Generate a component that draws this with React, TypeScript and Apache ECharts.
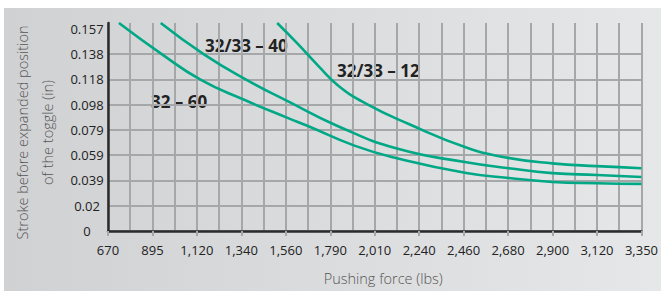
import React, { useEffect, useRef } from "react";
import * as echarts from "echarts";

const xTickLabels = ["670", "895", "1,120", "1,340", "1,560", "1,790", "2,010", "2,240", "2,460", "2,680", "2,900", "3,120", "3,350"];
const yTickLabels = ["0", "0.02", "0.039", "0.059", "0.079", "0.098", "0.118", "0.138", "0.157"];

// Pushing force (lbs) / stroke (in)
const force60 = [725, 938, 1137, 1351, 1575, 1674, 1908, 2122, 2470, 2684, 2902, 3126, 3350];
const stroke60 = [0.162, 0.138, 0.1177, 0.1024, 0.0879, 0.0818, 0.0665, 0.0566, 0.0451, 0.0413, 0.0382, 0.0372, 0.0367];

const force40 = [935, 1152, 1366, 1575, 1823, 2122, 2470, 2684, 2902, 3126, 3350];
const stroke40 = [0.162, 0.1376, 0.1177, 0.1009, 0.0818, 0.0642, 0.0535, 0.0489, 0.0451, 0.0436, 0.042];

const force12 = [1520, 1620, 1730, 1830, 1973, 2181, 2470, 2669, 2902, 3126, 3350];
const stroke12 = [0.162, 0.1463, 0.128, 0.1128, 0.0986, 0.0833, 0.065, 0.0573, 0.0527, 0.0505, 0.0489];

const seriesNames = ["32 – 60", "32/33 – 40", "32/33 – 12"];

const X_MIN = 670;
const X_MAX = 3350;
const X_INT = (X_MAX - X_MIN) / 12;
const Y_INT = 0.15748 / 8;
const Y_MAX = 0.162;

const GREEN = "#00a886";
const GRID = "#a6a7a9";
const NONE = "rgba(0,0,0,0)";
const FONT = '"Open Sans", "Noto Sans", sans-serif';

function pairs(xs: number[], ys: number[]) {
  return xs.map((x, i) => [x, ys[i]]);
}

export default function App() {
  const ref = useRef<HTMLDivElement>(null);
  useEffect(() => {
    if (!ref.current) return;
    const chart = echarts.init(ref.current, null, { renderer: "svg" });
    const lineSeries = (name: string, data: number[][]) => ({
      name,
      type: "line",
      data,
      smooth: 0.5,
      showSymbol: false,
      symbol: "none",
      clip: true,
      lineStyle: { color: GREEN, width: 2.6 },
      itemStyle: { color: GREEN },
    });
    const gridStyle = { color: GRID, width: 2, type: "solid", opacity: 1 };
    const labelStyle = { fontSize: 17, fontWeight: "bold", fontFamily: FONT, fill: "#222", verticalAlign: "middle" };
    chart.setOption({
      animation: false,
      backgroundColor: {
        type: "linear",
        x: 0,
        y: 0,
        x2: 1,
        y2: 0,
        colorStops: [
          { offset: 0, color: "#d0d1d3" },
          { offset: 1, color: "#e6e7e8" },
        ],
      },
      grid: { left: 108, right: 14, top: 23, bottom: 56 },
      xAxis: {
        type: "value",
        min: X_MIN,
        max: X_MAX,
        interval: X_INT,
        name: "Pushing force (lbs)",
        nameLocation: "middle",
        nameGap: 40,
        nameTextStyle: { fontSize: 14.5, color: "#555", fontFamily: FONT, fontWeight: 300, padding: [0, 0, 0, 17] },
        axisLine: { lineStyle: { color: "#2b2b2b", width: 2.5, opacity: 1 } },
        axisTick: { show: true, length: 5, lineStyle: { ...gridStyle } },
        axisLabel: {
          fontSize: 13,
          color: "#222",
          fontFamily: FONT,
          margin: 12,
          showMinLabel: true,
          showMaxLabel: true,
          formatter: (v: number) => {
            const i = Math.round((v - X_MIN) / X_INT);
            return xTickLabels[i] ?? "";
          },
        },
        splitLine: { show: true, lineStyle: { ...gridStyle } },
        minorTick: { show: false, splitNumber: 2 },
        minorSplitLine: { show: true, lineStyle: { ...gridStyle } },
      },
      yAxis: {
        type: "value",
        min: 0,
        max: Y_MAX,
        interval: Y_INT,
        name: "Stroke before expanded position\nof the toggle (in)",
        nameLocation: "middle",
        nameRotate: 90,
        nameGap: 46,
        nameTextStyle: { fontSize: 14.5, lineHeight: 25, color: "#555", fontFamily: FONT, fontWeight: 300, padding: [0, 11, 0, 0] },
        axisLine: { show: true, lineStyle: { color: "#2b2b2b", width: 2.5, opacity: 1 } },
        axisTick: { show: false },
        axisLabel: {
          fontSize: 13,
          color: "#222",
          fontFamily: FONT,
          align: "center",
          margin: 21,
          formatter: (v: number) => {
            const i = Math.round(v / Y_INT);
            if (Math.abs(v - i * Y_INT) > 1e-6) return "";
            return yTickLabels[i] ?? "";
          },
        },
        splitLine: {
          show: true,
          lineStyle: {
            ...gridStyle,
            color: [GRID, GRID, GRID, GRID, GRID, GRID, GRID, GRID, NONE, NONE],
          },
        },
      },
      graphic: [
        { type: "rect", left: 0, top: 0, shape: { width: 661, height: 8 }, style: { fill: "#fff" }, z: -10 },
        { type: "rect", left: 0, top: 0, shape: { width: 4, height: 291 }, style: { fill: "#fff" }, z: -10 },
        { type: "text", x: 151, y: 101, style: { ...labelStyle, text: seriesNames[0] } },
        { type: "text", x: 205, y: 45, style: { ...labelStyle, text: seriesNames[1] } },
        { type: "text", x: 337, y: 70, style: { ...labelStyle, text: seriesNames[2] } },
      ],
      series: [
        lineSeries(seriesNames[0], pairs(force60, stroke60)),
        lineSeries(seriesNames[1], pairs(force40, stroke40)),
        lineSeries(seriesNames[2], pairs(force12, stroke12)),
      ],
    });
    return () => chart.dispose();
  }, []);

  return (
    <div style={{ position: "absolute", left: 0, top: 0, width: 661, height: 291, background: "#fff", overflow: "hidden" }}>
      <div ref={ref} style={{ position: "absolute", left: 0, top: 0, width: 661, height: 291 }} />
    </div>
  );
}
